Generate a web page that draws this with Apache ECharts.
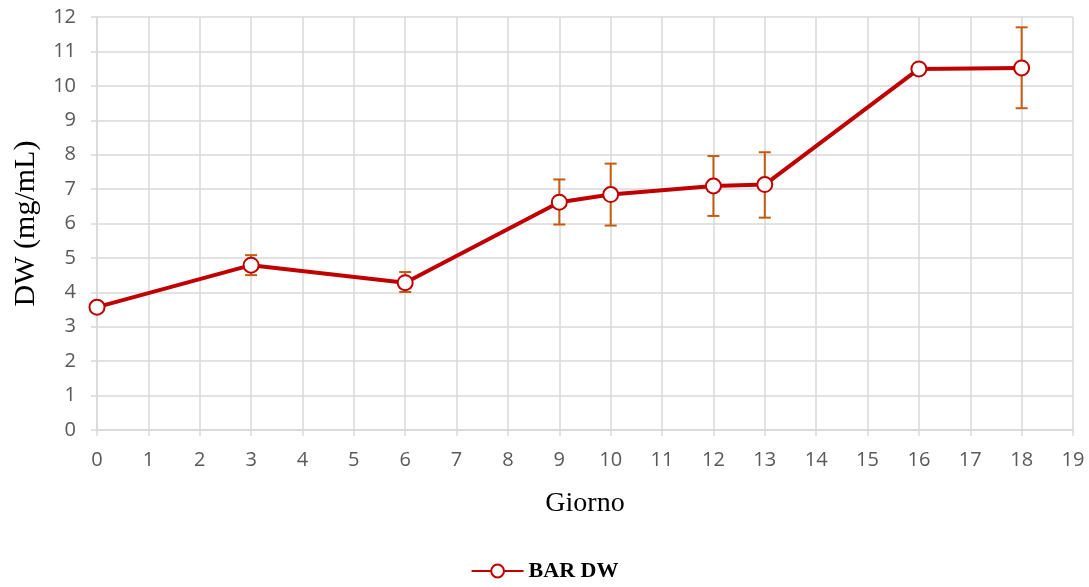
<!DOCTYPE html>
<html>
<head>
<meta charset="utf-8">
<script src="https://cdn.jsdelivr.net/npm/echarts@6/dist/echarts.min.js"></script>
<style>
	html, body { margin: 0; padding: 0; background: #fff; }
	#chart { width: 1089px; height: 587px; }
</style>
</head>
<body>
<div id="chart"></div>
<script>
// giorni e valori medi
const days = [0, 3, 6, 9, 10, 12, 13, 16, 18];
const dw = [3.57, 4.79, 4.28, 6.62, 6.84, 7.09, 7.13, 10.49, 10.52];
// limiti barre di errore (null = nessuna barra)
const errLow = [null, 4.5, 4.01, 5.97, 5.94, 6.22, 6.17, null, 9.35];
const errHigh = [null, 5.08, 4.59, 7.28, 7.74, 7.96, 8.07, null, 11.7];

const lineData = days.map((d, i) => [d, dw[i]]);
const errData = [];
days.forEach((d, i) => {
	if (errLow[i] !== null) errData.push([d, errLow[i], errHigh[i]]);
});

const myChart = echarts.init(document.getElementById('chart'));
const option = {
	animation: false,
	grid: { left: 97, right: 16, top: 17, bottom: 157 },
	legend: {
		bottom: 0,
		left: 'center',
		itemWidth: 52,
		itemHeight: 16,
		itemGap: 8,
		textStyle: { fontFamily: 'Liberation Serif', fontWeight: 'bold', fontSize: 22, color: '#000' },
		data: ['BAR DW']
	},
	xAxis: {
		type: 'value',
		min: 0, max: 19, interval: 1,
		name: 'Giorno',
		nameLocation: 'middle',
		nameGap: 60,
		nameTextStyle: { fontFamily: 'Liberation Serif', fontSize: 28, color: '#000' },
		axisLine: { lineStyle: { color: '#D9D9D9', width: 1.5 } },
		axisTick: { show: true, length: 6, lineStyle: { color: '#D9D9D9', width: 1.5 } },
		axisLabel: { fontFamily: 'Open Sans', fontSize: 20, color: '#595959', margin: 20 },
		splitLine: { lineStyle: { color: '#D9D9D9', width: 1.5 } }
	},
	yAxis: {
		type: 'value',
		min: 0, max: 12, interval: 1,
		name: 'DW (mg/mL)',
		nameLocation: 'middle',
		nameGap: 56,
		nameTextStyle: { fontFamily: 'Liberation Serif', fontSize: 30, color: '#000' },
		axisLine: { show: true, lineStyle: { color: '#D9D9D9', width: 1.5 } },
		axisTick: { show: true, length: 6, lineStyle: { color: '#D9D9D9', width: 1.5 } },
		axisLabel: { fontFamily: 'Open Sans', fontSize: 20, color: '#595959', margin: 21 },
		splitLine: { lineStyle: { color: '#D9D9D9', width: 1.5 } }
	},
	series: [
		{
			name: 'errori',
			type: 'custom',
			z: 1,
			data: errData,
			renderItem: function (params, api) {
				const x = api.value(0);
				const lo = api.coord([x, api.value(1)]);
				const hi = api.coord([x, api.value(2)]);
				const cap = 6;
				const style = { stroke: '#C55A11', lineWidth: 2 };
				return {
					type: 'group',
					children: [
						{ type: 'line', shape: { x1: lo[0], y1: lo[1], x2: hi[0], y2: hi[1] }, style: style },
						{ type: 'line', shape: { x1: lo[0] - cap, y1: lo[1], x2: lo[0] + cap, y2: lo[1] }, style: style },
						{ type: 'line', shape: { x1: hi[0] - cap, y1: hi[1], x2: hi[0] + cap, y2: hi[1] }, style: style }
					]
				};
			}
		},
		{
			name: 'BAR DW',
			type: 'line',
			z: 3,
			data: lineData,
			symbol: 'circle',
			symbolSize: 15,
			showAllSymbol: true,
			lineStyle: { color: '#C00000', width: 4 },
			itemStyle: { color: '#fff', borderColor: '#C00000', borderWidth: 2 }
		}
	]
};
myChart.setOption(option);
</script>
</body>
</html>
